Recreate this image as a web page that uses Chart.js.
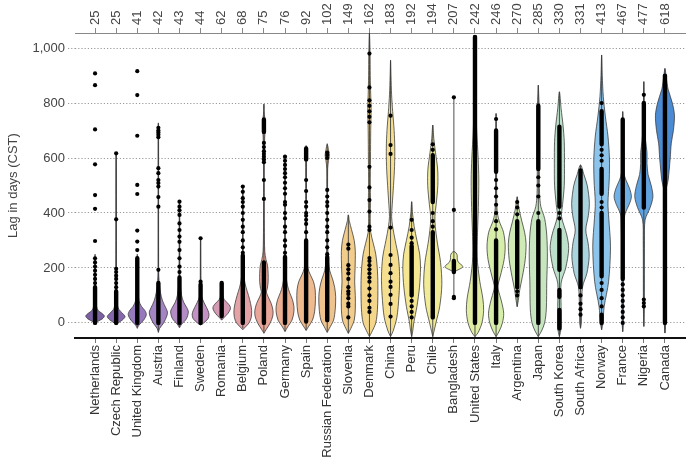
<!DOCTYPE html>
<html>
<head>
<meta charset="utf-8">
<script src="https://cdn.jsdelivr.net/npm/chart.js@4.4.1/dist/chart.umd.min.js"></script>
<style>
  html, body { margin: 0; padding: 0; background: #fff; }
  #wrap { width: 696px; height: 461px; }
</style>
</head>
<body>
<div id="wrap"><canvas id="c" width="696" height="461"></canvas></div>
<script>
// ---------------- DATA ----------------
const countries = ['Netherlands','Czech Republic','United Kingdom','Austria','Finland','Sweden','Romania','Belgium','Poland','Germany','Spain','Russian Federation','Slovenia','Denmark','China','Peru','Chile','Bangladesh','United States','Italy','Argentina','Japan','South Korea','South Africa','Norway','France','Nigeria','Canada'];
const counts = [25,25,41,42,43,44,62,68,75,76,92,102,149,162,183,192,194,207,242,246,270,285,330,331,413,467,477,618];
const yTicks = [0,200,400,600,800,1000];

// density profiles: [lag value, relative half-width]
const densityProfiles = [
  [[-5,0],[5,0.12],[15,0.35],[25,0.44],[35,0.32],[45,0.15],[60,0.07],[90,0.04],[150,0.025],[240,0.015],[250,0]],
  [[-8,0],[0,0.1],[12,0.32],[23,0.42],[35,0.3],[50,0.12],[70,0.05],[110,0.03],[200,0.015],[617,0.008],[620,0]],
  [[-20,0],[-8,0.08],[10,0.3],[30,0.43],[45,0.36],[60,0.2],[80,0.08],[120,0.04],[200,0.025],[240,0.015],[250,0]],
  [[-35,0],[-20,0.06],[0,0.25],[25,0.4],[40,0.43],[55,0.35],[80,0.2],[110,0.1],[140,0.05],[170,0.02],[200,0.012],[720,0.01],[728,0]],
  [[-18,0],[-5,0.1],[15,0.33],[40,0.42],[55,0.35],[75,0.2],[100,0.1],[140,0.04],[200,0.02],[440,0.01],[443,0]],
  [[-8,0],[0,0.15],[15,0.35],[30,0.4],[45,0.35],[65,0.22],[85,0.1],[100,0.04],[130,0.02],[308,0.008],[310,0]],
  [[10,0],[20,0.12],[35,0.3],[50,0.41],[60,0.4],[72,0.28],[85,0.12],[100,0.05],[130,0.02],[150,0]],
  [[-25,0],[-15,0.12],[0,0.3],[20,0.4],[45,0.42],[70,0.37],[100,0.27],[130,0.15],[160,0.07],[200,0.035],[240,0.02],[496,0.008],[498,0]],
  [[-38,0],[-25,0.1],[0,0.3],[25,0.42],[45,0.43],[70,0.35],[95,0.2],[112,0.12],[125,0.16],[150,0.2],[180,0.2],[210,0.17],[230,0.1],[260,0.04],[350,0.02],[600,0.015],[680,0.04],[720,0.07],[745,0.04],[770,0.01],[796,0]],
  [[-32,0],[-15,0.12],[10,0.33],[40,0.42],[60,0.42],[85,0.35],[110,0.22],[135,0.12],[170,0.05],[220,0.025],[300,0.015],[605,0.008],[607,0]],
  [[-28,0],[-15,0.1],[10,0.3],[40,0.4],[80,0.44],[120,0.43],[150,0.35],[175,0.2],[200,0.08],[240,0.04],[300,0.02],[600,0.02],[630,0.03],[645,0]],
  [[-35,0],[-20,0.1],[10,0.3],[50,0.38],[95,0.4],[130,0.35],[160,0.25],[190,0.12],[230,0.05],[300,0.025],[560,0.02],[590,0.06],[610,0.1],[630,0.06],[650,0]],
  [[-38,0],[-20,0.12],[10,0.28],[50,0.33],[100,0.33],[150,0.3],[200,0.32],[260,0.33],[300,0.28],[340,0.15],[370,0.05],[393,0]],
  [[-50,0],[-35,0.1],[0,0.3],[50,0.38],[140,0.4],[200,0.37],[250,0.3],[290,0.18],[330,0.06],[380,0.04],[450,0.05],[500,0.04],[600,0.05],[700,0.06],[780,0.08],[830,0.06],[900,0.04],[980,0.03],[1055,0]],
  [[-50,0],[-30,0.12],[20,0.3],[100,0.4],[170,0.43],[240,0.37],[300,0.22],[350,0.1],[387,0.05],[430,0.08],[500,0.14],[570,0.19],[640,0.2],[700,0.17],[770,0.1],[830,0.05],[900,0.02],[956,0]],
  [[-50,0],[-30,0.05],[0,0.1],[60,0.25],[130,0.37],[200,0.42],[250,0.38],[300,0.25],[350,0.12],[400,0.04],[441,0]],
  [[-50,0],[-30,0.06],[0,0.15],[60,0.33],[140,0.43],[220,0.37],[290,0.22],[350,0.12],[387,0.1],[430,0.16],[500,0.24],[560,0.23],[620,0.13],[670,0.05],[720,0]],
  [[186,0],[195,0.25],[203,0.42],[210,0.38],[220,0.22],[232,0.16],[245,0.16],[255,0.1],[260,0]],
  [[-50,0],[-35,0.15],[0,0.33],[45,0.41],[90,0.37],[150,0.23],[220,0.12],[265,0.1],[330,0.12],[420,0.16],[520,0.18],[600,0.15],[700,0.08],[800,0.05],[900,0.03],[1041,0]],
  [[-50,0],[-30,0.15],[0,0.3],[35,0.36],[80,0.25],[120,0.1],[135,0.08],[170,0.2],[230,0.38],[280,0.43],[330,0.35],[370,0.15],[400,0.06],[450,0.03],[600,0.02],[762,0]],
  [[59,0],[80,0.05],[120,0.12],[170,0.25],[230,0.38],[290,0.42],[330,0.35],[370,0.22],[410,0.1],[440,0.04],[459,0]],
  [[-50,0],[-30,0.15],[0,0.3],[50,0.38],[150,0.4],[240,0.43],[320,0.4],[380,0.3],[423,0.12],[470,0.06],[550,0.05],[700,0.05],[790,0.04],[830,0.02],[865,0]],
  [[-50,0],[-20,0.08],[60,0.08],[145,0.08],[200,0.3],[270,0.44],[320,0.35],[387,0.1],[430,0.15],[500,0.23],[580,0.24],[660,0.23],[720,0.17],[780,0.08],[841,0]],
  [[-20,0],[0,0.04],[60,0.05],[132,0.1],[180,0.3],[241,0.41],[290,0.36],[338,0.25],[390,0.37],[435,0.42],[500,0.32],[540,0.16],[575,0]],
  [[-25,0],[0,0.06],[59,0.12],[150,0.33],[277,0.42],[380,0.34],[436,0.3],[520,0.36],[600,0.37],[680,0.3],[750,0.18],[823,0.08],[900,0.03],[975,0]],
  [[-32,0],[0,0.03],[200,0.04],[380,0.08],[400,0.12],[430,0.3],[459,0.41],[490,0.32],[520,0.15],[545,0.06],[600,0.04],[700,0.03],[769,0]],
  [[-13,0],[50,0.02],[300,0.03],[375,0.06],[420,0.3],[459,0.43],[500,0.35],[540,0.2],[580,0.15],[620,0.15],[665,0.08],[720,0.04],[800,0.02],[878,0]],
  [[-37,0],[0,0.03],[300,0.04],[484,0.06],[520,0.15],[600,0.25],[654,0.3],[700,0.4],[756,0.45],[800,0.35],[850,0.15],[872,0.1],[900,0.05],[926,0]]
];

// min / max of each distribution
const ranges = [
  [0,240],[0,617],[-15,240],[-30,726],[-15,441],[-5,308],[12,150],[-20,496],[-35,796],[-30,605],
  [-25,645],[-32,653],[-38,393],[-50,1055],[-50,956],[-50,441],[-50,720],[90,821],[-50,1041],[-50,762],
  [59,459],[-50,865],[-50,841],[-18,575],[-25,975],[-32,769],[-13,878],[-37,926]
];

// value spans where the observation dots overlap into a solid column
const denseSpans = [
  [[0,130]],[[0,115]],[[0,235]],[[0,145]],[[0,165]],[[0,140]],[[25,145]],[[0,245]],[[0,220],[695,740]],[[0,240]],
  [[5,300],[595,635]],[[10,240]],[],[],[],[[100,280]],[[20,330],[440,610]],[[185,225]],[[0,1040]],[[0,300],[550,700]],
  [[130,370]],[[0,370],[560,790]],[[-20,47],[95,120],[193,338],[423,714]],[[130,555]],[[0,30],[170,400],[470,560],[650,770]],[[160,740]],[[420,800]],[[0,900]]
];

// individual observations outside the solid columns
const observations = [
  [145,160,175,190,205,220,235,298,415,465,577,704,865,908],
  [130,145,160,172,185,197,377,617],
  [265,296,336,469,502,681,829,916],
  [193,423,458,496,509,520,545,563,676,685,693,700,710],
  [185,205,235,265,295,314,338,362,393,410,423,441],
  [150,308],
  [],
  [255,275,300,330,350,375,400,423,440,454,477,496],
  [451,520,585,595,605,615,625,640,655],
  [255,280,300,330,350,380,400,430,440,470,490,510,530,545,560,575,590,605],
  [330,360,375,390,400,423,440,480,520],
  [250,275,300,330,350,375,400,425,440,460,484,600,611,620],
  [20,60,70,90,105,115,130,160,180,195,210,270,285],
  [40,55,80,100,125,150,165,180,195,210,225,236,338,350,405,447,493,568,730,750,770,790,810,857,980],
  [23,69,102,131,150,181,211,247,347,615,647,754],
  [20,40,60,80,290,310,338,375],
  [350,370,400,630,650],
  [90,95,411,821],
  [1041],
  [340,370,400,430,460,490,520,742],
  [100,115,395,420,440],
  [400,460,500,530],
  [380,400],
  [30,50,70,100],
  [60,90,120,145,420,440,590,610,630,800],
  [0,20,40,60,80,100,120,140],
  [60,72,85,830],
  []
];

// ---------------- STYLE ----------------
const palette = ['#7b60a4','#8668ae','#967abd','#a385c3','#b38cc6','#c391c3','#d59ab3','#e3a2a6','#e9a597','#ebaf92','#eeba8e','#efc38d','#f1cc8b','#f3d68c','#f5df8f','#f5e791','#f1eb98','#e8ee9f','#e0eea3','#d7eeab','#cfeab4','#c7e6c0','#bce0c9','#a9d3dd','#8dc4eb','#72b1e6','#60a1e0','#4b8bd3'];
const FONT = "'Liberation Sans', Arial, Helvetica, sans-serif";

// ---------------- BUILD DATASETS ----------------
const datasets = [];
densityProfiles.forEach((prof, i) => {
  const pts = [];
  prof.forEach(([v, w]) => pts.push({x: i + w, y: v}));
  for (let k = prof.length - 2; k >= 0; k--) pts.push({x: i - prof[k][1], y: prof[k][0]});
  datasets.push({
    type: 'line', data: pts, order: 3,
    backgroundColor: palette[i], borderColor: 'rgba(55,55,55,0.85)', borderWidth: 0.9,
    fill: 'shape', tension: 0.3, pointRadius: 0, pointHoverRadius: 0
  });
});
const whiskerPts = [];
ranges.forEach(([lo, hi], i) => { whiskerPts.push({x: i, y: lo}, {x: i, y: hi}, {x: i, y: null}); });
datasets.push({type: 'line', data: whiskerPts, order: 2, borderColor: 'rgba(60,60,60,0.9)', borderWidth: 1, pointRadius: 0, fill: false, spanGaps: false, tension: 0});
const densePts = [];
denseSpans.forEach((spans, i) => spans.forEach(([lo, hi]) => densePts.push({x: i, y: lo}, {x: i, y: hi}, {x: i, y: null})));
datasets.push({type: 'line', data: densePts, order: 1, borderColor: '#000', borderWidth: 4.4, borderCapStyle: 'round', pointRadius: 0, fill: false, spanGaps: false, tension: 0});
const dotPts = [];
observations.forEach((vals, i) => vals.forEach(v => dotPts.push({x: i, y: v})));
datasets.push({type: 'scatter', data: dotPts, order: 0, showLine: false, pointRadius: 2.1, pointBackgroundColor: '#000', pointBorderWidth: 0});

const catTicks = axis => { axis.ticks = countries.map((_, i) => ({value: i})); };
const labelAt = (list, v) => (Number.isInteger(v) && v >= 0 && v < list.length) ? String(list[v]) : '';

// rotated count labels on the top axis, positioned through the x2 scale
const topCountLabels = {
  id: 'topCountLabels',
  afterDraw(chart) {
    const sc = chart.scales.x2, ctx = chart.ctx;
    ctx.save();
    ctx.fillStyle = '#444';
    ctx.font = "13px " + FONT;
    ctx.textAlign = 'left';
    ctx.textBaseline = 'middle';
    counts.forEach((c, i) => {
      const x = sc.getPixelForValue(i);
      ctx.save();
      ctx.translate(x, sc.bottom - 8);
      ctx.rotate(-Math.PI / 2);
      ctx.fillText(String(c), 0, 0);
      ctx.restore();
    });
    ctx.restore();
  }
};

new Chart(document.getElementById('c'), {
  type: 'line',
  data: { datasets },
  plugins: [topCountLabels],
  options: {
    responsive: false, animation: false, devicePixelRatio: 1,
    layout: { padding: { right: 11, left: 0, top: 0, bottom: 0 } },
    plugins: { legend: { display: false }, tooltip: { enabled: false } },
    scales: {
      x: {
        type: 'linear', position: 'bottom', min: -0.95, max: 27.95,
        afterBuildTicks: catTicks,
        afterFit: s => { s.height = 123; },
        ticks: { autoSkip: false, minRotation: 90, maxRotation: 90, padding: 2, color: '#333', font: { family: FONT, size: 13 },
          callback: v => labelAt(countries, v) },
        grid: { drawOnChartArea: false, drawTicks: true, tickLength: 5, color: '#777', lineWidth: 1 },
        border: { display: true, color: '#111', width: 2 }
      },
      x2: {
        type: 'linear', position: 'top', min: -0.95, max: 27.95,
        afterBuildTicks: catTicks,
        afterFit: s => { s.height = 33; },
        ticks: { display: false },
        grid: { drawOnChartArea: false, drawTicks: true, tickLength: 5, color: '#888', lineWidth: 1 },
        border: { display: true, color: '#888', width: 1 }
      },
      y: {
        type: 'linear', min: -55, max: 1055,
        afterBuildTicks: axis => { axis.ticks = yTicks.map(v => ({value: v})); },
        afterFit: s => { s.width = 75; },
        ticks: { color: '#444', padding: 3, font: { family: FONT, size: 13 },
          callback: v => v.toLocaleString('en-US') },
        grid: { color: '#9a9a9a', lineWidth: 1, drawTicks: true, tickLength: 7, tickColor: '#9a9a9a', tickBorderDash: [1.2, 2] },
        border: { display: false, dash: [1.2, 2] },
        title: { display: true, text: 'Lag in days (CST)', color: '#444', font: { family: FONT, size: 13 }, padding: { top: 6, bottom: 0 } }
      }
    }
  }
});
</script>
</body>
</html>
